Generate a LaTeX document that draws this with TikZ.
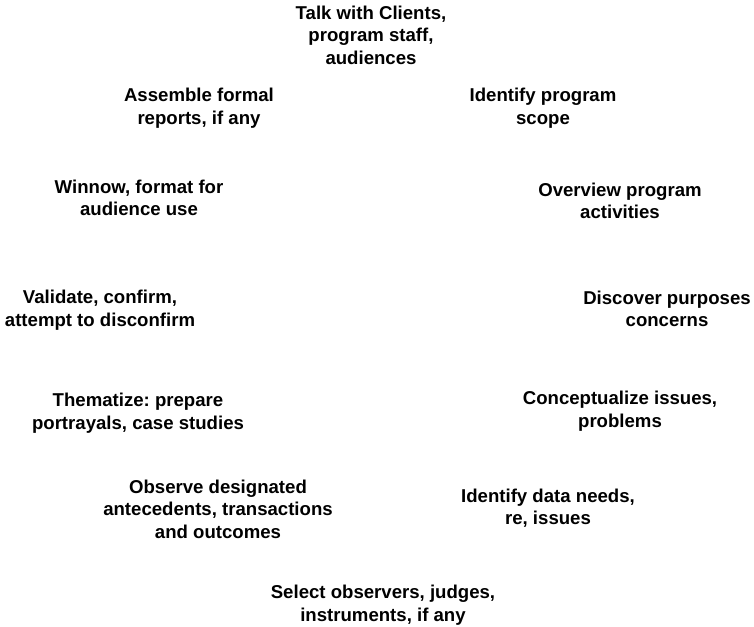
\documentclass[tikz,border=0pt]{standalone}
\usepackage{fontspec}
\newfontfamily\labelfont{Liberation Sans}
\frenchspacing
\begin{document}
\begin{tikzpicture}[x=1pt,y=1pt,
  stage/.style={font=\labelfont\bfseries\fontsize{18.6}{22.5}\selectfont,
                align=center, inner sep=0pt, text=black}]
  \useasboundingbox (0,0) rectangle (754,626);
  % stages of the responsive evaluation clock, clockwise from the top
  \node[stage] (talk)     at (371,591) {Talk with Clients,\\program staff,\\audiences};
  \node[stage] (scope)    at (543,518) {Identify program\\scope};
  \node[stage] (overview) at (620,425) {Overview program\\activities};
  \node[stage] (purposes) at (667,317) {Discover purposes\\concerns};
  \node[stage] (issues)   at (620,215) {Conceptualize issues,\\problems};
  \node[stage] (needs)    at (548,118) {Identify data needs,\\re, issues};
  \node[stage] (select)   at (383,21)  {Select observers, judges,\\instruments, if any};
  \node[stage] (observe)  at (218,117) {Observe designated\\antecedents, transactions\\and outcomes};
  \node[stage] (theme)    at (138,213) {Thematize: prepare\\portrayals, case studies};
  \node[stage] (validate) at (100,316) {Validate, confirm,\\attempt to disconfirm};
  \node[stage] (winnow)   at (139,428) {Winnow, format for\\audience use};
  \node[stage] (reports)  at (199,518) {Assemble formal\\reports, if any};
\end{tikzpicture}
\end{document}
